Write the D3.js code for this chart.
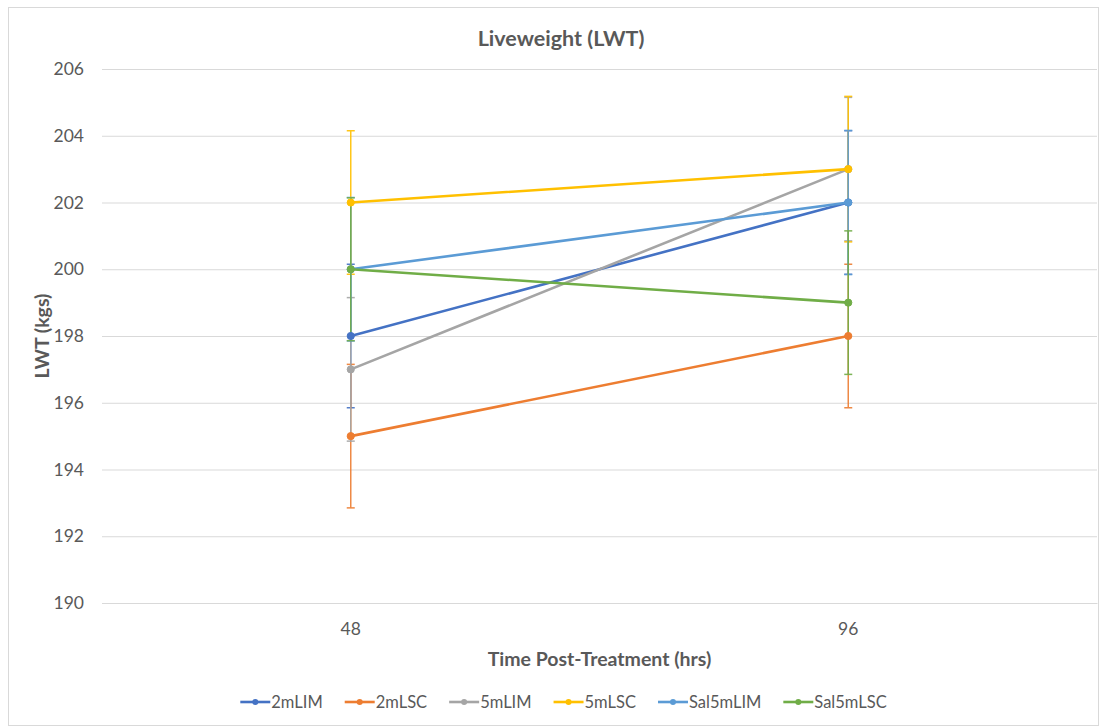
<!DOCTYPE html>
<html>
<head>
<meta charset="utf-8">
<script src="https://cdn.jsdelivr.net/npm/d3@7"></script>
<style>
  html, body { margin: 0; padding: 0; background: #fff; }
  svg { display: block; }
  text { font-family: Lato, "Liberation Sans", sans-serif; fill: #595959; }
</style>
</head>
<body>
<svg id="chart" width="1102" height="727"></svg>
<script>
// ---- data ----
const categories = ["48", "96"];
const seriesNames = ["2mLIM", "2mLSC", "5mLIM", "5mLSC", "Sal5mLIM", "Sal5mLSC"];
const seriesColors = ["#4472C4", "#ED7D31", "#A5A5A5", "#FFC000", "#5B9BD5", "#70AD47"];
const values2mLIM    = [198, 202];
const values2mLSC    = [195, 198];
const values5mLIM    = [197, 203];
const values5mLSC    = [202, 203];
const valuesSal5mLIM = [200, 202];
const valuesSal5mLSC = [200, 199];
const errors2mLIM    = [2.15, 2.15];
const errors2mLSC    = [2.15, 2.15];
const errors5mLIM    = [2.15, 2.15];
const errors5mLSC    = [2.15, 2.18];
const errorsSal5mLIM = [2.15, 2.16];
const errorsSal5mLSC = [2.14, 2.15];
const yTicks = [190, 192, 194, 196, 198, 200, 202, 204, 206];
const chartTitle = "Liveweight (LWT)";
const xTitle = "Time Post-Treatment (hrs)";
const yTitle = "LWT (kgs)";

const allValues = [values2mLIM, values2mLSC, values5mLIM, values5mLSC, valuesSal5mLIM, valuesSal5mLSC];
const allErrors = [errors2mLIM, errors2mLSC, errors5mLIM, errors5mLSC, errorsSal5mLIM, errorsSal5mLSC];
const series = seriesNames.map((n, i) => ({
  name: n, color: seriesColors[i],
  points: categories.map((c, j) => ({ cat: c, v: allValues[i][j], e: allErrors[i][j] }))
}));

// ---- layout ----
const svg = d3.select("#chart");
const plot = { left: 102, right: 1097, top: 69, bottom: 603 };
const FONT = "Lato, 'Liberation Sans', sans-serif";

// outer border
svg.append("rect").attr("x", 8.5).attr("y", 7.5).attr("width", 1090).attr("height", 718)
  .attr("fill", "#fff").attr("stroke", "#d9d9d9").attr("stroke-width", 1);

const x = d3.scaleBand().domain(categories).range([plot.left, plot.right]).padding(0);
const y = d3.scaleLinear().domain([190, 206]).range([plot.bottom, plot.top]);
const cx = c => x(c) + x.bandwidth() / 2;

// gridlines + y ticks
const yAxis = d3.axisLeft(y).tickValues(yTicks).tickSize(-(plot.right - plot.left)).tickPadding(18).tickFormat(d3.format("d"));
const gy = svg.append("g").attr("transform", `translate(${plot.left},0)`).call(yAxis);
gy.select(".domain").remove();
gy.selectAll(".tick line").attr("stroke", "#d9d9d9").attr("stroke-width", 1);
gy.selectAll(".tick text").attr("font-size", 17.5).attr("fill", "#595959").style("font-family", FONT);

// x axis
const xAxis = d3.axisBottom(x).tickSize(0).tickPadding(20);
const gx = svg.append("g").attr("transform", `translate(0,${plot.bottom})`).call(xAxis);
gx.select(".domain").attr("stroke", "#d9d9d9");
gx.selectAll(".tick text").attr("font-size", 17.5).attr("fill", "#595959").style("font-family", FONT);

// error bars (drawn first, series order)
const capW = 4;
series.forEach(s => {
  const g = svg.append("g").attr("stroke", s.color).attr("stroke-width", 1.5).attr("opacity", 0.9);
  s.points.forEach(p => {
    const px = cx(p.cat);
    g.append("line").attr("x1", px).attr("x2", px).attr("y1", y(p.v + p.e)).attr("y2", y(p.v - p.e));
    g.append("line").attr("x1", px - capW).attr("x2", px + capW).attr("y1", y(p.v + p.e)).attr("y2", y(p.v + p.e));
    g.append("line").attr("x1", px - capW).attr("x2", px + capW).attr("y1", y(p.v - p.e)).attr("y2", y(p.v - p.e));
  });
});

// lines + markers
const line = d3.line().x(p => cx(p.cat)).y(p => y(p.v));
series.forEach(s => {
  svg.append("path").datum(s.points).attr("d", line).attr("fill", "none")
    .attr("stroke", s.color).attr("stroke-width", 2.6).attr("stroke-linecap", "round");
  svg.selectAll(null).data(s.points).enter().append("circle")
    .attr("cx", p => cx(p.cat)).attr("cy", p => y(p.v)).attr("r", 3.6)
    .attr("fill", s.color).attr("stroke", s.color);
});

// titles
svg.append("text").attr("x", 561).attr("y", 46).attr("text-anchor", "middle")
  .attr("font-size", 21.5).attr("font-weight", "bold").text(chartTitle);
svg.append("text").attr("x", (plot.left + plot.right) / 2).attr("y", 666).attr("text-anchor", "middle")
  .attr("font-size", 19.5).attr("font-weight", "bold").text(xTitle);
svg.append("text").attr("transform", `translate(49,${(plot.top + plot.bottom) / 2}) rotate(-90)`)
  .attr("text-anchor", "middle").attr("font-size", 19.5).attr("font-weight", "bold").text(yTitle);

// legend
const legY = 702;
const leg = svg.append("g");
const items = [];
series.forEach(s => {
  const g = leg.append("g");
  g.append("line").attr("x1", 0).attr("x2", 30).attr("y1", 0).attr("y2", 0)
    .attr("stroke", s.color).attr("stroke-width", 2.6);
  g.append("circle").attr("cx", 15).attr("cy", 0).attr("r", 3).attr("fill", s.color);
  const t = g.append("text").attr("x", 31).attr("y", 6).attr("font-size", 16.5).text(s.name);
  items.push({ g, w: 31 + t.node().getComputedTextLength() });
});
const gap = 22;
const total = d3.sum(items, d => d.w) + gap * (items.length - 1);
let lx = 563.5 - total / 2;
items.forEach(it => { it.g.attr("transform", `translate(${lx},${legY})`); lx += it.w + gap; });
</script>
</body>
</html>
